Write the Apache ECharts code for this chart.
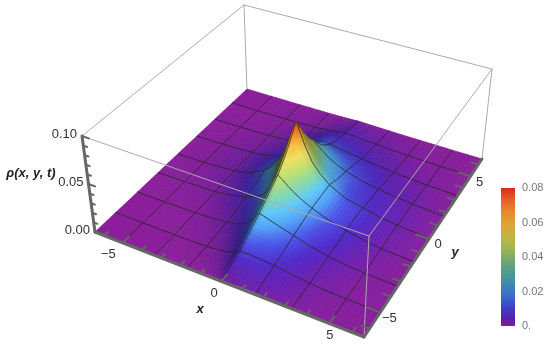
<!DOCTYPE html>
<html>
<head>
<meta charset="utf-8">
<style>html,body{margin:0;padding:0;background:#fff}#chart{width:550px;height:348px}</style>
<script src="https://cdn.jsdelivr.net/npm/echarts@6/dist/echarts.min.js"></script>
</head>
<body>
<div id="chart"></div>
<script>
// surface samples, rho * 1000, one row per y value, columns follow xs
var xs = [-6.5,-5,-3.33,-2.5,-1.67,-1.2,-0.8,-0.5,-0.25,-0.1,0,0.2,0.5,0.8,1.2,1.67,2.5,3.33,4.2,5,6.5];
var ys = [-6.5,-5,-4.17,-3.33,-2.5,-1.67,-1.2,-0.8,-0.4,0,0.4,0.8,1.2,1.67,2.5,3.33,4.2,5,6.5];
var rhoRows = [
  [0,0,0,0,0,0,0,.2,.4,.6,.8,1,1.5,1.8,2,2,1.5,.8,.4,.2,0],
  [0,0,0,.1,.5,1.2,2.2,3.5,5.5,8,9,9,9,8.5,8,7,4.5,2.5,1.2,.5,.1],
  [0,0,.1,.5,1.3,2.4,4.2,7,11,14.5,16,15.5,14.5,13.5,12,10,6.5,3.5,1.8,.8,.1],
  [0,0,.3,.9,2.5,4.5,7.5,12,17,22,24,23,21,19,16.5,13.5,8.5,5,2.5,1.2,.2],
  [0,.1,.6,1.6,4.2,7,11.5,17,24,30,33,31,28,25,20.5,16.5,10.5,6.5,3.5,1.5,.2],
  [0,.2,1,3,6.8,10.5,15.5,23,32,39,42,39,33.5,29,24,19,12.5,8,4.5,2,.3],
  [0,.3,1.4,3.8,8.5,13.5,20,29,39,47,50,46,38.5,32,26,20,13,8.5,5,2.4,.3],
  [0,.4,1.8,4.5,10,15.5,24,35,46,54,58,53,43,35,27.5,20.5,13,9,5,2.6,.4],
  [0,.4,2,5,12,19.5,29,42,55,64,68,61,48,38,29,21,13,9,5,2.8,.4],
  [0,.4,2.2,5.5,14,22.5,34,48,63,73,78,67,52,40,30,21.5,12.5,9,5,3,.5],
  [0,.4,2.2,5.5,13,20.5,30,42,54,62,66,58,46,36,27,19.5,11.5,8,5,3,.5],
  [0,.4,2.2,5.5,12,18.5,26,35,45,52,55,49,39,31,24,17.5,10.5,7.5,5,3,.5],
  [0,.4,2,5,11,15.5,21,29,37,43,45,40,33,27,21,16,10,7,4.5,2.8,.5],
  [0,.4,1.8,4.2,9,12.5,17,23,30,35,37,33,28,23,18.5,14.5,9.5,6.5,4.2,2.6,.4],
  [0,.3,1.3,3,6,9,12.5,17,20.5,22,21.5,20,18,16,13.5,11,7.5,5,3.2,2,.3],
  [0,.2,1,2,4,6.5,10,13,13.5,13,12.5,12,11,10,9,7.5,5.5,3.5,2.2,1.3,.2],
  [0,.1,.6,1.2,2.5,4.5,7,8,8,8,7.8,7.5,7,6.5,5.5,4.8,3.5,2.2,1.4,.8,.1],
  [0,0,.3,.6,1.2,2,3,3.8,4.5,4.8,5,5,4.7,4.2,3.6,3,2,1.3,.8,.4,.1],
  [0,0,0,.1,.2,.3,.5,.7,.8,1,1,1,.9,.8,.7,.5,.3,.2,.1,0,0]
];
var meshValues = [-5,-3.33,-1.67,0,1.67,3.33,5];
var xTicks = [-5,0,5];
var yTicks = [-5,0,5];
var zTicks = [0,0.05,0.1];
var zTickLabels = ['0.00','0.05','0.10'];
var barRho = [0,.004,.01,.018,.026,.034,.042,.05,.058,.066,.074,.08];
var barColors = ['#7a2092','#5a20a8','#3f3cc8','#3a70c8','#4090a8','#5aa080','#8fb060','#b8b848','#d8a838','#e88a30','#e85828','#d82820'];
// the lit surface is brighter than the bar
var litRho = [0,.003,.007,.012,.018,.024,.03,.04,.05,.06,.07,.08];
var litColors = ['#8a1e9b','#6a20b0','#5028c8','#4a50e8','#50a0f8','#60c8f8','#80d8b0','#c0e070','#f0e060','#ffc040','#ff8028','#f04020'];

// screen corners of the box, order (-,-) (+,-) (+,+) (-,+)
var L = 6.5, zMax = 0.1;
var floorQuad = [[95,232],[364,337],[482,159],[247,89]];
var topQuad = [[82,136],[369,236],[492,69],[244,5]];

function homography(q){
  var dx1=q[1][0]-q[2][0], dx2=q[3][0]-q[2][0], sx=q[0][0]-q[1][0]+q[2][0]-q[3][0];
  var dy1=q[1][1]-q[2][1], dy2=q[3][1]-q[2][1], sy=q[0][1]-q[1][1]+q[2][1]-q[3][1];
  var den=dx1*dy2-dx2*dy1;
  var g=(sx*dy2-dx2*sy)/den, h=(dx1*sy-sx*dy1)/den;
  var a=q[1][0]-q[0][0]+g*q[1][0], b=q[3][0]-q[0][0]+h*q[3][0];
  var d=q[1][1]-q[0][1]+g*q[1][1], e=q[3][1]-q[0][1]+h*q[3][1];
  return function(x,y){
    var u=(x+L)/(2*L), v=(y+L)/(2*L), w=g*u+h*v+1;
    return [(a*u+b*v+q[0][0])/w,(d*u+e*v+q[0][1])/w];
  };
}
var floorAt = homography(floorQuad), topAt = homography(topQuad);
function project(x,y,z){
  var f=floorAt(x,y), t=topAt(x,y), k=z/zMax;
  return [f[0]+(t[0]-f[0])*k, f[1]+(t[1]-f[1])*k];
}
function rhoAt(i,j){ return rhoRows[j][i]/1000; }

function hexRgb(c){ return [parseInt(c.substr(1,2),16),parseInt(c.substr(3,2),16),parseInt(c.substr(5,2),16)]; }
function litRgb(v){
  for(var k=1;k<litRho.length;k++){
    if(v<=litRho[k]){
      var t=(v-litRho[k-1])/(litRho[k]-litRho[k-1]);
      var a=hexRgb(litColors[k-1]), b=hexRgb(litColors[k]);
      return [a[0]+(b[0]-a[0])*t,a[1]+(b[1]-a[1])*t,a[2]+(b[2]-a[2])*t];
    }
  }
  return hexRgb(litColors[litColors.length-1]);
}
// slopes facing away from the light (-x and +y sides) go darker
function shadeAt(i,j){
  var i0=Math.max(i-1,0), i1=Math.min(i+1,xs.length-1), j0=Math.max(j-1,0), j1=Math.min(j+1,ys.length-1);
  var gx=(rhoAt(i1,j)-rhoAt(i0,j))/(xs[i1]-xs[i0])*45;
  var gy=(rhoAt(i,j1)-rhoAt(i,j0))/(ys[j1]-ys[j0])*45;
  var slope=Math.max(gx,0)+Math.max(-gy,0)*.6;
  return 1-.9*slope/(slope+.8);
}
function css(c,s){ return 'rgb('+Math.round(c[0]*s)+','+Math.round(c[1]*s)+','+Math.round(c[2]*s)+')'; }

// cells, far to near
var cells = [];
for(var j=0;j<ys.length-1;j++){
  for(var i=0;i<xs.length-1;i++){ cells.push([i,j]); }
}
cells.sort(function(p,q){ return (xs[p[0]]-ys[p[1]])-(xs[q[0]]-ys[q[1]]); });

function blend(p,u,v){
  return [
    (p[0][0]*(1-u)+p[1][0]*u)*(1-v)+(p[3][0]*(1-u)+p[2][0]*u)*v,
    (p[0][1]*(1-u)+p[1][1]*u)*(1-v)+(p[3][1]*(1-u)+p[2][1]*u)*v
  ];
}
function renderCell(params,api){
  var i=api.value(0), j=api.value(1);
  var corners=[[i,j],[i+1,j],[i+1,j+1],[i,j+1]];
  var pts=corners.map(function(v){ return api.coord(project(xs[v[0]],ys[v[1]],rhoAt(v[0],v[1]))); });
  var vals=corners.map(function(v){ return rhoAt(v[0],v[1]); });
  var shades=corners.map(function(v){ return shadeAt(v[0],v[1]); });
  var size=Math.max(Math.abs(pts[0][0]-pts[2][0]),Math.abs(pts[0][1]-pts[2][1]),Math.abs(pts[1][0]-pts[3][0]),Math.abs(pts[1][1]-pts[3][1]));
  // shade the cell smoothly, Gouraud style; flat cells need only one piece
  var spread=Math.max.apply(null,vals)-Math.min.apply(null,vals);
  var n=spread<0.0001?1:Math.max(1,Math.min(6,Math.ceil(size/5)));
  var children=[];
  for(var a=0;a<n;a++){
    for(var b=0;b<n;b++){
      var u=(a+.5)/n, v=(b+.5)/n;
      var rv=(vals[0]*(1-u)+vals[1]*u)*(1-v)+(vals[3]*(1-u)+vals[2]*u)*v;
      var sv=(shades[0]*(1-u)+shades[1]*u)*(1-v)+(shades[3]*(1-u)+shades[2]*u)*v;
      var col=css(litRgb(rv),sv);
      children.push({type:'polygon',shape:{points:[blend(pts,a/n,b/n),blend(pts,(a+1)/n,b/n),blend(pts,(a+1)/n,(b+1)/n),blend(pts,a/n,(b+1)/n)]},
        style:{fill:col,stroke:col,lineWidth:.7}});
    }
  }
  var meshStyle={stroke:'rgba(40,40,40,.8)',lineWidth:.9,fill:'none'};
  if(meshValues.indexOf(ys[j])>=0){ children.push({type:'line',shape:{x1:pts[0][0],y1:pts[0][1],x2:pts[1][0],y2:pts[1][1]},style:meshStyle}); }
  if(meshValues.indexOf(ys[j+1])>=0){ children.push({type:'line',shape:{x1:pts[3][0],y1:pts[3][1],x2:pts[2][0],y2:pts[2][1]},style:meshStyle}); }
  if(meshValues.indexOf(xs[i])>=0){ children.push({type:'line',shape:{x1:pts[0][0],y1:pts[0][1],x2:pts[3][0],y2:pts[3][1]},style:meshStyle}); }
  if(meshValues.indexOf(xs[i+1])>=0){ children.push({type:'line',shape:{x1:pts[1][0],y1:pts[1][1],x2:pts[2][0],y2:pts[2][1]},style:meshStyle}); }
  return {type:'group',children:children};
}

function seg(api,a,b,stroke,w){
  var p=api.coord(a), q=api.coord(b);
  return {type:'line',shape:{x1:p[0],y1:p[1],x2:q[0],y2:q[1]},style:{stroke:stroke,lineWidth:w,lineCap:'round',fill:'none'}};
}
function label(api,pos,text,align,size,color){
  var p=api.coord(pos);
  return {type:'text',x:p[0],y:p[1],style:{text:text,textAlign:align,textVerticalAlign:'middle',font:size+'px "Liberation Sans"',fill:color}};
}
var boxColor='#ababab', axisColor='#666666';

function renderBack(params,api){
  return {type:'group',children:[
    seg(api,topQuad[0],topQuad[3],boxColor,1),
    seg(api,topQuad[3],topQuad[2],boxColor,1),
    seg(api,topQuad[3],floorQuad[3],boxColor,1),
    seg(api,topQuad[2],floorQuad[2],boxColor,1)
  ]};
}
function renderFront(params,api){
  var c=[
    seg(api,topQuad[0],topQuad[1],boxColor,1),
    seg(api,topQuad[1],topQuad[2],boxColor,1),
    seg(api,topQuad[1],floorQuad[1],boxColor,1),
    seg(api,floorQuad[0],floorQuad[1],axisColor,3),
    seg(api,floorQuad[1],floorQuad[2],axisColor,3),
    seg(api,floorQuad[0],topQuad[0],axisColor,3)
  ];
  var v, major, a, b;
  for(v=-6;v<=6;v++){
    major=v%5===0;
    // x ticks stick into the floor along +y, y ticks along -x
    a=project(v,-L,0); b=project(v,-L+(major?.45:.28),0);
    c.push(seg(api,a,b,axisColor,2));
    a=project(L,v,0); b=project(L-(major?.6:.35),v,0);
    c.push(seg(api,a,b,axisColor,2));
  }
  for(var n=0;n<=10;n++){
    a=project(-L,-L,n/100); b=project(-L+(n%5===0?.35:.2),-L,n/100);
    c.push(seg(api,a,b,axisColor,2));
  }
  xTicks.forEach(function(t){
    var p=project(t,-L,0);
    c.push(label(api,[p[0]-7+1.5*t,p[1]+12],String(t).replace('-','\u2212'),'center',13,'#333'));
  });
  yTicks.forEach(function(t){
    var p=project(L,t,0);
    c.push(label(api,[p[0]+9,p[1]+6],String(t).replace('-','\u2212'),'center',13,'#333'));
  });
  zTicks.forEach(function(t,k){
    var p=project(-L,-L,t);
    c.push(label(api,[p[0]-5,p[1]-2],zTickLabels[k],'right',13,'#333'));
  });
  return {type:'group',children:c};
}
function renderBar(params,api){
  var lo=api.coord([0,0]), hi=api.coord([1,0.08]);
  var stops=barRho.map(function(r,k){ return {offset:r/0.08,color:barColors[k]}; });
  return {type:'rect',shape:{x:lo[0],y:hi[1],width:hi[0]-lo[0],height:lo[1]-hi[1]},
    style:{fill:new echarts.graphic.LinearGradient(0,1,0,0,stops)}};
}

var chart = echarts.init(document.getElementById('chart'));
chart.setOption({
  animation:false,
  grid:[
    {left:0,top:0,width:550,height:348},
    {left:501,top:188,width:14,height:138}
  ],
  xAxis:[
    {type:'value',min:0,max:550,show:false,gridIndex:0},
    {type:'value',min:0,max:1,show:false,gridIndex:1}
  ],
  yAxis:[
    {type:'value',min:0,max:348,inverse:true,show:false,gridIndex:0},
    {type:'value',min:0,max:0.08,interval:0.02,position:'right',gridIndex:1,
      axisLine:{show:false},axisTick:{show:false},splitLine:{show:false},
      axisLabel:{margin:7,color:'#777',fontFamily:'Liberation Sans',fontSize:11,
        formatter:function(v){ return v===0?'0.':v.toFixed(2); }}}
  ],
  graphic:[
    {type:'text',x:200,y:309,style:{text:'x',textAlign:'center',textVerticalAlign:'middle',font:'italic bold 13px "Liberation Sans"',fill:'#222'}},
    {type:'text',x:455,y:252,style:{text:'y',textAlign:'center',textVerticalAlign:'middle',font:'italic bold 13px "Liberation Sans"',fill:'#222'}},
    {type:'text',x:31,y:173,style:{text:'\u03c1(x, y, t)',textAlign:'center',textVerticalAlign:'middle',font:'italic bold 13px "Liberation Sans"',fill:'#222'}}
  ],
  series:[
    {type:'custom',coordinateSystem:'cartesian2d',xAxisIndex:0,yAxisIndex:0,data:[[0]],renderItem:renderBack,silent:true,clip:false,z:1},
    {type:'custom',coordinateSystem:'cartesian2d',xAxisIndex:0,yAxisIndex:0,data:cells,renderItem:renderCell,silent:true,clip:false,progressive:0,z:2},
    {type:'custom',coordinateSystem:'cartesian2d',xAxisIndex:0,yAxisIndex:0,data:[[0]],renderItem:renderFront,silent:true,clip:false,z:3},
    {type:'custom',coordinateSystem:'cartesian2d',xAxisIndex:1,yAxisIndex:1,data:[[0]],renderItem:renderBar,silent:true,z:3}
  ]
});
</script>
</body>
</html>
